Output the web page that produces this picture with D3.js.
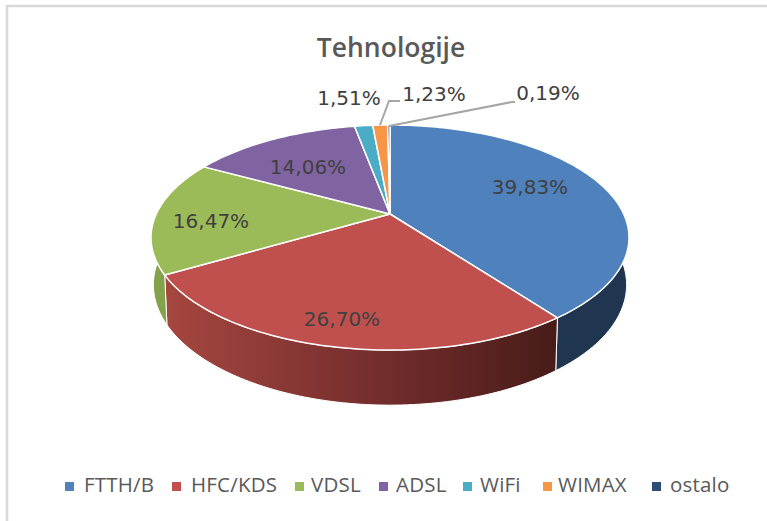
<!DOCTYPE html>
<html>
<head>
<meta charset="utf-8">
<script src="https://cdnjs.cloudflare.com/ajax/libs/d3/7.8.5/d3.min.js"></script>
<style>
  html, body { margin: 0; padding: 0; background: #fff; overflow: hidden; }
  svg { display: block; }
</style>
</head>
<body>
<div id="chart"></div>
<script>
const categories = ["FTTH/B", "HFC/KDS", "VDSL", "ADSL", "WiFi", "WIMAX", "ostalo"];
const values = [39.83, 26.70, 16.47, 14.06, 1.51, 1.23, 0.19];
const labels = ["39,83%", "26,70%", "16,47%", "14,06%", "1,51%", "1,23%", "0,19%"];
const colors = ["#4f81bd", "#c0504d", "#9bbb59", "#8064a2", "#4bacc6", "#f79646", "#2c4d75"];
const wallColors = ["#1f3550", "url(#redWall)", "#83a24b", "#56406f", "#2f7587", "#a9601f", "#1b2f47"];

const width = 767, height = 521;
// pie centre and perspective of the tilted disc
const cx = 390, cy = 214, scaleX = 233.7, scaleY = 107.6, tilt = -0.209;

const svg = d3.select("#chart").append("svg")
    .attr("width", width).attr("height", height);

// frame only shows on the top and left sides
svg.append("path")
    .attr("d", `M${width},6H7V${height}`)
    .attr("fill", "none").attr("stroke", "#d9d9d9").attr("stroke-width", 2.5);

const grad = svg.append("defs").append("linearGradient").attr("id", "redWall")
    .attr("gradientUnits", "userSpaceOnUse")
    .attr("x1", 168).attr("x2", 552).attr("y1", 0).attr("y2", 0);
grad.append("stop").attr("offset", "0%").attr("stop-color", "#a5463f");
grad.append("stop").attr("offset", "60%").attr("stop-color", "#6f2b2b");
grad.append("stop").attr("offset", "100%").attr("stop-color", "#491c19");

const arcs = d3.pie().sort(null).value(d => d)(values);

// angle on the disc (0 at 12 o'clock, clockwise) to a point of the top rim
function topRim(a) {
    const u = Math.sin(a), v = -Math.cos(a), w = 1 + tilt * v;
    return [cx + scaleX * u / w, cy + scaleY * v / w];
}

// same angle on the lower rim, slightly narrower because of the perspective
function bottomRim(a) {
    const p = topRim(a);
    return [cx + 0.99 * (p[0] - cx), 327 + 1.07 * (p[1] - 277)];
}

function anglesOf(d) {
    const n = Math.max(2, Math.ceil((d.endAngle - d.startAngle) / 0.02));
    return d3.range(n + 1).map(i => d.startAngle + (d.endAngle - d.startAngle) * i / n);
}

const line = d3.line();

function topPath(d) {
    return line([[cx, cy]].concat(anglesOf(d).map(topRim))) + "Z";
}

function wallPath(d) {
    const a = anglesOf(d);
    return line(a.map(topRim).concat(a.slice().reverse().map(bottomRim))) + "Z";
}

svg.append("g").selectAll("path")
    .data(arcs)
    .join("path")
    .attr("d", wallPath)
    .attr("fill", (d, i) => wallColors[i])
    .attr("stroke", "#fff").attr("stroke-width", 1);

svg.append("g").selectAll("path")
    .data(arcs)
    .join("path")
    .attr("d", topPath)
    .attr("fill", (d, i) => colors[i])
    .attr("stroke", "#fff").attr("stroke-width", 1.5)
    .attr("stroke-linejoin", "round");

// title
svg.append("text")
    .attr("x", 391).attr("y", 57)
    .attr("text-anchor", "middle")
    .attr("font-family", "'Open Sans', sans-serif")
    .attr("font-size", 26.5).attr("font-weight", 600)
    .attr("fill", "#595959")
    .text("Tehnologije");

// data labels, placed by hand like in the original
const labelX = [530, 342, 211, 308, 349, 434, 548];
const labelY = [187, 319, 221, 167, 98, 94, 93];

svg.append("g").selectAll("text")
    .data(labels)
    .join("text")
    .attr("x", (d, i) => labelX[i])
    .attr("y", (d, i) => labelY[i] + 7)
    .attr("text-anchor", "middle")
    .attr("font-family", "'DejaVu Sans', sans-serif")
    .attr("font-size", 20)
    .attr("fill", "#404040")
    .text(d => d);

// leader lines for the two smallest slices
const leaderLines = [
    [[380, 125], [389, 101], [400, 101]],
    [[389, 126], [512, 102], [515, 102]]
];
svg.append("g").selectAll("path")
    .data(leaderLines)
    .join("path")
    .attr("d", line)
    .attr("fill", "none")
    .attr("stroke", "#a6a6a6").attr("stroke-width", 2);

// legend
const legendMarkerX = [65, 172, 295, 379, 463, 543, 652];
const legendTextX = [84, 191, 311, 396, 480, 558, 670];

const legend = svg.append("g").selectAll("g")
    .data(categories)
    .join("g");
legend.append("rect")
    .attr("x", (d, i) => legendMarkerX[i]).attr("y", 482)
    .attr("width", 9).attr("height", 9)
    .attr("fill", (d, i) => colors[i]);
legend.append("text")
    .attr("x", (d, i) => legendTextX[i]).attr("y", 492)
    .attr("font-family", "'Open Sans', sans-serif")
    .attr("font-size", 20.5)
    .attr("letter-spacing", 0.2)
    .attr("fill", "#595959")
    .text(d => d);
</script>
</body>
</html>
